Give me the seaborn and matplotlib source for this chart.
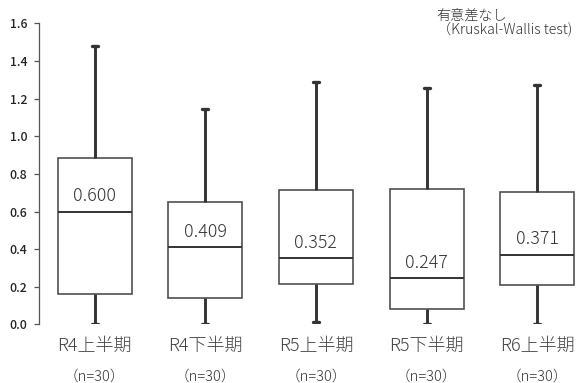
import numpy as np
import pandas as pd
import matplotlib
matplotlib.use("Agg")
import matplotlib.pyplot as plt
import seaborn as sns

# Five-number summaries per period (min, Q1, median, Q3, max)
periods = ["R4上半期", "R4下半期", "R5上半期", "R5下半期", "R6上半期"]
counts = [30, 30, 30, 30, 30]
mins = [0.000, 0.000, 0.015, 0.000, 0.000]
q1s = [0.161, 0.138, 0.213, 0.080, 0.211]
medians = [0.600, 0.409, 0.352, 0.247, 0.371]
q3s = [0.883, 0.652, 0.714, 0.720, 0.705]
maxs = [1.480, 1.145, 1.290, 1.255, 1.275]

y_ticks = [0.0, 0.2, 0.4, 0.6, 0.8, 1.0, 1.2, 1.4, 1.6]

rows = []
for p, a, b, c, d, e in zip(periods, mins, q1s, medians, q3s, maxs):
    for v in (a, b, c, d, e):
        rows.append({"period": p, "value": v})
df = pd.DataFrame(rows)

sns.set_theme(style="white")
plt.rcParams["font.family"] = ["Noto Sans CJK JP", "DejaVu Sans"]
plt.rcParams["font.weight"] = "light"

fig = plt.figure(figsize=(5.87, 3.83), dpi=100)
ax = fig.add_axes([0.067, 0.153, 0.933, 0.786])

dark = "#333333"
edge = "#505050"

sns.boxplot(
    data=df, x="period", y="value", order=periods, ax=ax,
    whis=(0, 100), width=0.67, gap=0, color="white",
    linecolor=edge, linewidth=1.2, showfliers=False,
    boxprops=dict(edgecolor=edge, facecolor="white", linewidth=1.2),
    medianprops=dict(color=dark, linewidth=1.4),
    whiskerprops=dict(color=dark, linewidth=2.1),
    capprops=dict(color=dark, linewidth=2.4),
    capwidths=0.055,
)

# median value above each median line
for i, m in enumerate(medians):
    ax.annotate(f"{m:.3f}", xy=(i, m), xytext=(0, 11), textcoords="offset points",
                ha="center", va="center", fontsize=12.8, color=dark)

# sample sizes below the period labels
for i, n in enumerate(counts):
    ax.annotate(f"（n={n}）", xy=(i, 0), xycoords=("data", "axes fraction"),
                xytext=(0, -37.5), textcoords="offset points",
                ha="center", va="center", fontsize=10.5, color=dark)

ax.set_ylim(0, 1.6)
ax.set_xlim(-0.5, 4.45)
ax.set_yticks(y_ticks)
ax.set_yticklabels([f"{t:.1f}" for t in y_ticks], fontweight="medium")
ax.set_xlabel("")
ax.set_ylabel("")

for s in ("top", "right", "bottom"):
    ax.spines[s].set_visible(False)
ax.spines["left"].set_color("#555555")
ax.spines["left"].set_linewidth(0.9)

ax.tick_params(axis="y", which="major", left=True, length=3.6, width=0.9,
               color="#555555", pad=5, labelsize=8.8, labelcolor="#222222")
ax.tick_params(axis="x", which="major", bottom=False, length=0, pad=9,
               labelsize=13, labelcolor="#444444")

fig.text(0.744, 0.941, "有意差なし\n（Kruskal-Wallis test)", fontsize=10.2,
         color=dark, ha="left", va="center", linespacing=0.88,
         multialignment="left")

fig.savefig("out.png", dpi=100)
